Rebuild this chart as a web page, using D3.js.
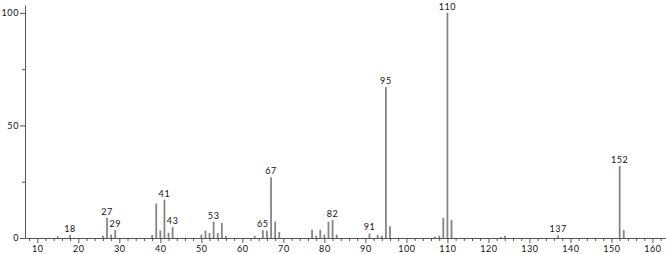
<!DOCTYPE html>
<html lang="en">
<head>
    <meta charset="UTF-8">
    <title>mass spectrum</title>
    <script src="https://d3js.org/d3.v7.min.js"></script>
    <style>
        body { margin: 0; background: #fff; }
        text { font-family: Lato, "DejaVu Sans", sans-serif; font-size: 9px; fill: #111; letter-spacing: 0.6px; }
        .axis path, .axis line { stroke: #555; }
    </style>
</head>
<body>
    <div id="chart"></div>
    <script>
        const width = 666;
        const height = 254;

        // m/z values and relative intensities
        const mz = [15, 18, 26, 27, 28, 29, 38, 39, 40, 41, 42, 43, 50, 51, 52, 53, 54, 55, 56, 63,
            65, 66, 67, 68, 69, 77, 78, 79, 80, 81, 82, 83, 91, 93, 94, 95, 96, 107, 108, 109,
            110, 111, 123, 124, 137, 152, 153];
        const intensity = [0.8, 1.3, 1, 9, 1.5, 3.6, 1.3, 15.3, 3.4, 17, 2.3, 4.8, 1.5, 3.3, 2.2, 7.3, 2.2, 6.7, 0.9, 1,
            3.5, 3.2, 27, 7.3, 2.7, 3.7, 1, 3.7, 1.5, 7.2, 8, 1.5, 2, 1.4, 1, 67, 5.2, 0.6, 1, 9,
            100, 8.1, 0.5, 1, 1.2, 32, 3.5];
        const labelled = [18, 27, 29, 41, 43, 53, 65, 67, 82, 91, 95, 110, 137, 152];

        const xMajor = d3.range(10, 161, 10);
        const xMinor = d3.range(8, 163, 2).filter(d => d % 10 !== 0);
        const yMajor = [0, 50, 100];
        const yMinor = [25, 75];

        const peaks = mz.map((m, i) => ({ mz: m, v: intensity[i] }));

        const svg = d3.select("#chart")
            .append("svg")
            .attr("width", width)
            .attr("height", height);

        const x = d3.scaleLinear().domain([7, 163.3]).range([25, 666]);
        const y = d3.scaleLinear().domain([0, 103.5]).range([238, 5]);

        // bars
        svg.selectAll(".peak")
            .data(peaks)
            .enter()
            .append("line")
            .attr("class", "peak")
            .attr("x1", d => x(d.mz))
            .attr("x2", d => x(d.mz))
            .attr("y1", y(0))
            .attr("y2", d => y(d.v))
            .attr("stroke", "#858585")
            .attr("stroke-width", 1.8);

        // x axis
        svg.append("g")
            .attr("class", "axis")
            .attr("transform", `translate(0,${y(0)})`)
            .call(d3.axisBottom(x).tickValues(xMinor).tickSize(3).tickFormat(""))
            .call(g => g.select(".domain").remove());

        svg.append("g")
            .attr("class", "axis")
            .attr("transform", `translate(0,${y(0)})`)
            .call(d3.axisBottom(x).tickValues(xMajor).tickSize(5).tickSizeOuter(0).tickPadding(3))
            .call(g => g.selectAll("text").style("font-size", "9px").attr("fill", "#111"));

        // y axis
        svg.append("g")
            .attr("class", "axis")
            .attr("transform", `translate(${x(7)},0)`)
            .call(d3.axisLeft(y).tickValues(yMinor).tickSize(3).tickFormat(""))
            .call(g => g.select(".domain").remove());

        svg.append("g")
            .attr("class", "axis")
            .attr("transform", `translate(${x(7)},0)`)
            .call(d3.axisLeft(y).tickValues(yMajor).tickSize(5).tickSizeOuter(0).tickPadding(1))
            .call(g => g.selectAll("text").style("font-size", "9px").attr("fill", "#111"));

        // peak labels
        svg.selectAll(".lbl")
            .data(peaks.filter(d => labelled.includes(d.mz)))
            .enter()
            .append("text")
            .attr("class", "lbl")
            .attr("x", d => x(d.mz))
            .attr("y", d => y(d.v) - 3)
            .attr("text-anchor", "middle")
            .text(d => d.mz);
    </script>
</body>
</html>
